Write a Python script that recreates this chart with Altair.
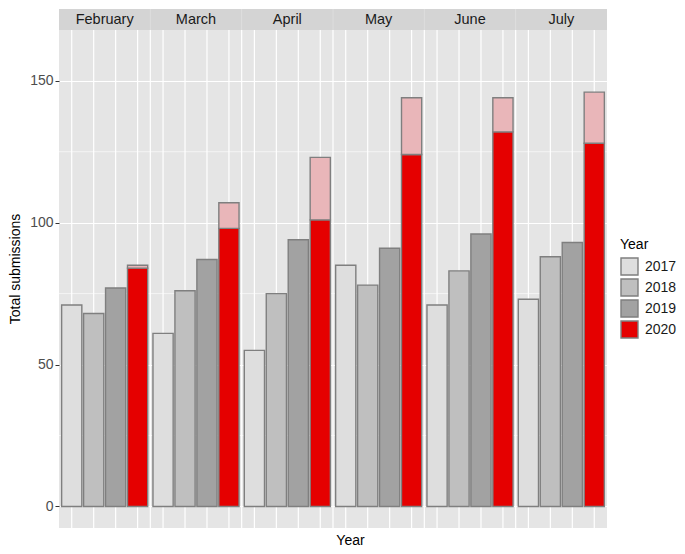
import altair as alt
import pandas as pd

months = ["February", "March", "April", "May", "June", "July"]
years = ["2017", "2018", "2019", "2020"]
v2017 = [71, 61, 55, 85, 71, 73]
v2018 = [68, 76, 75, 78, 83, 88]
v2019 = [77, 87, 94, 91, 96, 93]
v2020 = [84, 98, 101, 124, 132, 128]
v2020_total = [85, 107, 123, 144, 144, 146]

colors = ["#DEDEDE", "#BFBFBF", "#A2A2A2", "#E50000"]
pink = "#E9B6B9"
y_domain = [-7.6, 167.9]
major = [0, 50, 100, 150]
minor = [25, 75, 125]

W, H = 548, 498
S = 21  # strip height
FONT = "Liberation Sans"

rows = []
for i, m in enumerate(months):
    for yr, vals in zip(years, [v2017, v2018, v2019, v2020]):
        rows.append({"Month": m, "Year": yr, "Total": vals[i]})
df = pd.DataFrame(rows)
extra = pd.DataFrame({"Month": months, "Year": ["2020"] * 6, "Red": v2020, "All": v2020_total})
mdf = pd.DataFrame({"Month": months})
sep = pd.DataFrame({"Month": months[1:]})
mdf_minor = pd.DataFrame({"v": minor})

x_scale = alt.Scale(domain=months, paddingInner=0, paddingOuter=0)
x_axis = alt.Axis(labels=False, ticks=False, domain=False, grid=False, title="Year",
                  titleFontSize=14, titleFontWeight="normal", titleColor="black",
                  titleX=291, titleY=5, titleBaseline="top", titleAlign="center")
xo_scale = alt.Scale(domain=years, paddingInner=0.08, paddingOuter=0.12)
y_scale = alt.Scale(domain=y_domain, nice=False, zero=False)
y_axis = alt.Axis(values=major, grid=True, gridColor="white", gridWidth=1.2, domain=False,
                  tickColor="#333333", tickSize=4, tickWidth=1, labelPadding=2,
                  labelFontSize=14, labelColor="#4D4D4D",
                  title="Total submissions", titleFontSize=14, titleFontWeight="normal",
                  titleColor="black", titleAngle=270, titleX=-37, titleY=(H - S) / 2,
                  titleBaseline="bottom", titleAlign="center")

def X(**kw):
    return alt.X("Month:N", scale=x_scale, axis=x_axis, **kw)

def XO():
    return alt.XOffset("Year:N", scale=xo_scale)

strip = alt.Chart(mdf).mark_rect(fill="#D4D4D4").encode(
    x=X(), y=alt.value(-S), y2=alt.value(0))
strip_text = alt.Chart(mdf).mark_text(fontSize=14.5, color="#1A1A1A", baseline="middle").encode(
    x=X(), y=alt.value(-S / 2), text="Month:N")

minor_grid = alt.Chart(mdf_minor).mark_rule(color="white", strokeWidth=0.6).encode(
    y=alt.Y("v:Q", scale=y_scale, axis=y_axis), x=alt.value(0), x2=alt.value(W))

vgrid = alt.Chart(df).mark_rule(color="white", strokeWidth=1.2).encode(
    x=X(), xOffset=XO(),
    y=alt.Y(datum=y_domain[0], scale=y_scale, axis=y_axis), y2=alt.datum(y_domain[1]))

seps = alt.Chart(sep).mark_rule(color="white", strokeWidth=1.2).encode(
    x=X(bandPosition=0), y=alt.value(0), y2=alt.value(H))
seps_strip = alt.Chart(sep).mark_rule(color="#DDDDDD", strokeWidth=1).encode(
    x=X(bandPosition=0), y=alt.value(-S), y2=alt.value(0))

bars = alt.Chart(df).mark_bar(stroke="#7F7F7F", strokeWidth=1.4).encode(
    x=X(), xOffset=XO(),
    y=alt.Y("Total:Q", scale=y_scale, axis=y_axis), y2=alt.datum(0),
    color=alt.Color("Year:N", scale=alt.Scale(domain=years, range=colors),
                    legend=alt.Legend(orient="none", legendX=561, legendY=208, padding=0,
                                      title="Year", titleFontSize=14, titleFontWeight="normal",
                                      titleColor="black", titlePadding=5,
                                      labelFontSize=14, labelColor="#1A1A1A", labelOffset=6,
                                      symbolType="square", symbolSize=289,
                                      symbolStrokeColor="#7F7F7F", symbolStrokeWidth=1.4,
                                      symbolOpacity=1, rowPadding=-4.5)))

top = alt.Chart(extra).mark_bar(fill=pink, stroke="#7F7F7F", strokeWidth=1.4).encode(
    x=X(), xOffset=XO(),
    y=alt.Y("All:Q", scale=y_scale, axis=y_axis), y2="Red:Q")

chart = alt.layer(strip, seps_strip, strip_text, minor_grid, vgrid, seps, bars, top).properties(
    width=W, height=H, padding=0
).configure(font=FONT).configure_view(fill="#E5E5E5", stroke=None)

chart.save("out.html", embed_options={"renderer": "svg", "actions": False})
